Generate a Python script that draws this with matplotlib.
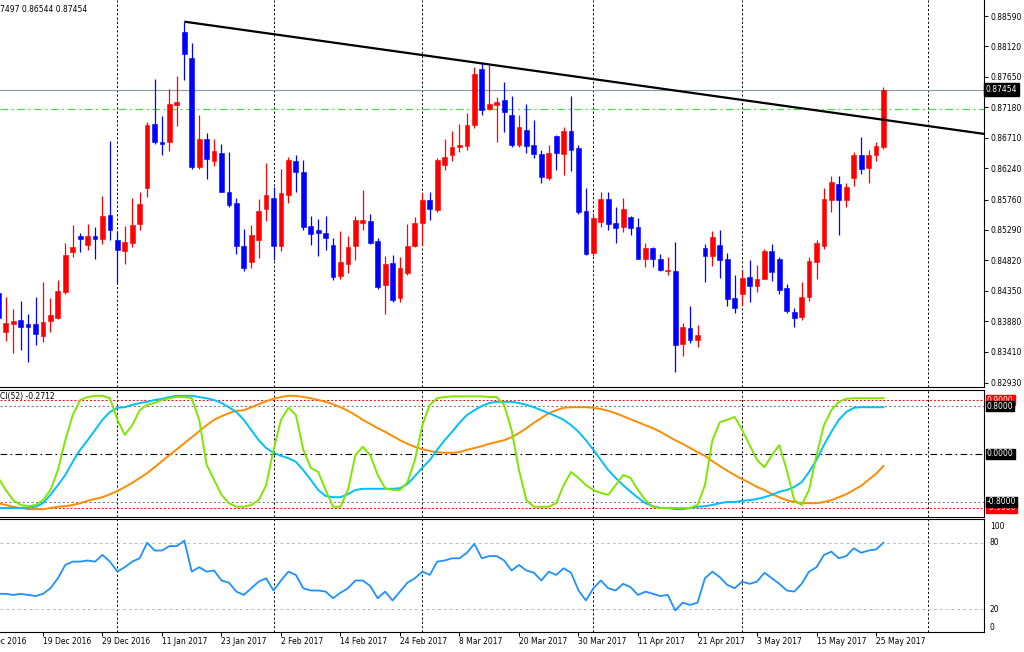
import matplotlib
matplotlib.use('Agg')
import matplotlib.pyplot as plt
import numpy as np

plt.rcParams['font.family'] = ['DejaVu Sans']
plt.rcParams['font.size'] = 5.5

# ---------------- data ----------------
bar_idx = list(range(-6, 114))

opens = [0.8432, 0.8371, 0.8384, 0.8390, 0.8384, 0.8384,
         0.8366, 0.8388, 0.8394, 0.8434, 0.8495, 0.8519, 0.8506, 0.8520, 0.8515, 0.8552,
         0.8513, 0.8497, 0.8509, 0.8538, 0.8593, 0.8692, 0.8664, 0.8664, 0.8722, 0.8834,
         0.8795, 0.8626, 0.8669, 0.8636, 0.8647, 0.8587, 0.8570, 0.8505, 0.8479, 0.8513,
         0.8561, 0.8578, 0.8504, 0.8583, 0.8635, 0.8619, 0.8535, 0.8529, 0.8524, 0.8506,
         0.8458, 0.8477, 0.8504, 0.8540, 0.8543, 0.8512, 0.8444, 0.8478, 0.8424, 0.8462,
         0.8504, 0.8539, 0.8576, 0.8560, 0.8629, 0.8644, 0.8657, 0.8659, 0.8691, 0.8777,
         0.8715, 0.8722, 0.8730, 0.8707, 0.8660, 0.8683, 0.8660, 0.8646, 0.8609, 0.8674,
         0.8646, 0.8682, 0.8656, 0.8558, 0.8493, 0.8541, 0.8577, 0.8539, 0.8533, 0.8549,
         0.8534, 0.8485, 0.8501, 0.8485, 0.8466, 0.8465, 0.8353, 0.8378, 0.8359, 0.8501,
         0.8489, 0.8506, 0.8484, 0.8424, 0.8430, 0.8457, 0.8442, 0.8454, 0.8497, 0.8484,
         0.8439, 0.8403, 0.8395, 0.8425, 0.8480, 0.8505, 0.8576, 0.8600, 0.8576, 0.8609,
         0.8644, 0.8624, 0.8645, 0.8657]
highs = [0.8440, 0.8426, 0.8407, 0.8420, 0.8399, 0.8426,
         0.8448, 0.8424, 0.8452, 0.8509, 0.8537, 0.8525, 0.8538, 0.8534, 0.8581, 0.8666,
         0.8528, 0.8535, 0.8579, 0.8588, 0.8696, 0.8762, 0.8705, 0.8746, 0.8767, 0.8850,
         0.8817, 0.8706, 0.8678, 0.8670, 0.8662, 0.8649, 0.8578, 0.8531, 0.8537, 0.8577,
         0.8632, 0.8596, 0.8623, 0.8642, 0.8644, 0.8637, 0.8550, 0.8546, 0.8550, 0.8516,
         0.8528, 0.8519, 0.8550, 0.8590, 0.8554, 0.8517, 0.8489, 0.8490, 0.8488, 0.8538,
         0.8549, 0.8586, 0.8588, 0.8640, 0.8669, 0.8681, 0.8692, 0.8709, 0.8781, 0.8786,
         0.8783, 0.8734, 0.8758, 0.8736, 0.8706, 0.8724, 0.8699, 0.8652, 0.8660, 0.8675,
         0.8688, 0.8735, 0.8660, 0.8593, 0.8555, 0.8587, 0.8588, 0.8565, 0.8578, 0.8551,
         0.8547, 0.8509, 0.8502, 0.8492, 0.8488, 0.8511, 0.8386, 0.8412, 0.8383, 0.8507,
         0.8528, 0.8529, 0.8493, 0.8460, 0.8467, 0.8483, 0.8475, 0.8499, 0.8507, 0.8487,
         0.8445, 0.8408, 0.8449, 0.8487, 0.8513, 0.8593, 0.8613, 0.8613, 0.8601, 0.8650,
         0.8673, 0.8653, 0.8665, 0.87497]
lows = [0.8388, 0.8358, 0.8339, 0.8344, 0.8325, 0.8351,
        0.8357, 0.8371, 0.8391, 0.8430, 0.8487, 0.8495, 0.8498, 0.8485, 0.8507, 0.8513,
        0.8447, 0.8477, 0.8503, 0.8529, 0.8580, 0.8662, 0.8645, 0.8651, 0.8690, 0.8760,
        0.8623, 0.8623, 0.8607, 0.8628, 0.8587, 0.8564, 0.8492, 0.8466, 0.8470, 0.8486,
        0.8543, 0.8482, 0.8497, 0.8571, 0.8588, 0.8529, 0.8506, 0.8489, 0.8498, 0.8452,
        0.8453, 0.8462, 0.8483, 0.8529, 0.8508, 0.8438, 0.8399, 0.8418, 0.8418, 0.8460,
        0.8502, 0.8506, 0.8544, 0.8556, 0.8622, 0.8636, 0.8650, 0.8652, 0.8686, 0.8706,
        0.8714, 0.8664, 0.8680, 0.8657, 0.8657, 0.8647, 0.8640, 0.8602, 0.8606, 0.8622,
        0.8614, 0.8620, 0.8554, 0.8491, 0.8489, 0.8534, 0.8529, 0.8509, 0.8526, 0.8521,
        0.8484, 0.8472, 0.8472, 0.8465, 0.8459, 0.8310, 0.8334, 0.8355, 0.8348, 0.8448,
        0.8473, 0.8455, 0.8412, 0.8401, 0.8413, 0.8418, 0.8434, 0.8453, 0.8451, 0.8430,
        0.8401, 0.8379, 0.8390, 0.8420, 0.8454, 0.8499, 0.8557, 0.8521, 0.8565, 0.8597,
        0.8615, 0.8601, 0.8636, 0.86544]
closes = [0.8393, 0.8386, 0.8389, 0.8380, 0.8380, 0.8369,
          0.8387, 0.8398, 0.8435, 0.8490, 0.8503, 0.8515, 0.8519, 0.8515, 0.8551, 0.8529,
          0.8498, 0.8510, 0.8537, 0.8569, 0.8691, 0.8664, 0.8662, 0.8723, 0.8726, 0.8800,
          0.8626, 0.8670, 0.8638, 0.8651, 0.8588, 0.8568, 0.8505, 0.8471, 0.8522, 0.8558,
          0.8583, 0.8504, 0.8586, 0.8637, 0.8619, 0.8534, 0.8523, 0.8525, 0.8517, 0.8457,
          0.8480, 0.8503, 0.8545, 0.8545, 0.8509, 0.8441, 0.8477, 0.8421, 0.8470, 0.8505,
          0.8539, 0.8576, 0.8561, 0.8637, 0.8642, 0.8657, 0.8660, 0.8691, 0.8769, 0.8714,
          0.8724, 0.8726, 0.8711, 0.8660, 0.8688, 0.8659, 0.8646, 0.8610, 0.8647, 0.8647,
          0.8682, 0.8653, 0.8556, 0.8492, 0.8547, 0.8577, 0.8538, 0.8532, 0.8561, 0.8532,
          0.8485, 0.8501, 0.8485, 0.8467, 0.8468, 0.8352, 0.8380, 0.8359, 0.8367, 0.8489,
          0.8518, 0.8482, 0.8423, 0.8409, 0.8455, 0.8443, 0.8454, 0.8497, 0.8464, 0.8436,
          0.8404, 0.8394, 0.8425, 0.8481, 0.8509, 0.8577, 0.8603, 0.8576, 0.8595, 0.8644,
          0.8623, 0.8644, 0.8659, 0.87454]

# oscillator window (three lines)
osc_green = [-0.40, -0.60, -0.77, -0.85, -0.87, -0.85,
             -0.77, -0.60, -0.27, 0.23, 0.65, 0.90, 0.95, 0.97, 0.97, 0.93,
             0.57, 0.32, 0.48, 0.73, 0.82, 0.85, 0.90, 0.93, 0.95, 0.95,
             0.93, 0.57, -0.18, -0.43, -0.68, -0.82, -0.88, -0.88, -0.85, -0.77,
             -0.52, 0.07, 0.57, 0.77, 0.65, 0.07, -0.23, -0.30, -0.60, -0.88,
             -0.88, -0.60, -0.02, 0.12, -0.02, -0.35, -0.57, -0.60, -0.60, -0.47,
             -0.10, 0.48, 0.82, 0.93, 0.95, 0.96, 0.96, 0.96, 0.96, 0.96,
             0.95, 0.95, 0.82, 0.40, -0.27, -0.77, -0.88, -0.88, -0.88, -0.82,
             -0.52, -0.30, -0.40, -0.52, -0.60, -0.65, -0.68, -0.52, -0.35, -0.40,
             -0.60, -0.77, -0.88, -0.90, -0.90, -0.90, -0.90, -0.90, -0.85, -0.52,
             0.23, 0.53, 0.57, 0.62, 0.40, 0.15, -0.10, -0.22, -0.02, 0.15,
             -0.27, -0.77, -0.85, -0.60, -0.02, 0.48, 0.73, 0.87, 0.92, 0.93,
             0.93, 0.93, 0.93, 0.93]
osc_blue = [-0.90, -0.90, -0.90, -0.90, -0.89, -0.88,
            -0.82, -0.68, -0.52, -0.35, -0.13, 0.07, 0.23, 0.40, 0.57, 0.70,
            0.77, 0.78, 0.82, 0.85, 0.87, 0.90, 0.92, 0.95, 0.97, 0.97,
            0.97, 0.95, 0.93, 0.90, 0.85, 0.78, 0.70, 0.57, 0.40, 0.23,
            0.10, 0.02, -0.03, -0.07, -0.13, -0.27, -0.43, -0.60, -0.70, -0.72,
            -0.72, -0.67, -0.60, -0.58, -0.58, -0.58, -0.58, -0.58, -0.57, -0.50,
            -0.37, -0.23, -0.10, 0.07, 0.23, 0.37, 0.52, 0.65, 0.73, 0.80,
            0.85, 0.87, 0.87, 0.87, 0.85, 0.82, 0.78, 0.73, 0.68, 0.63,
            0.57, 0.48, 0.37, 0.23, 0.07, -0.10, -0.27, -0.40, -0.52, -0.63,
            -0.73, -0.82, -0.87, -0.90, -0.90, -0.92, -0.92, -0.90, -0.88, -0.87,
            -0.85, -0.82, -0.80, -0.80, -0.78, -0.77, -0.75, -0.72, -0.68, -0.63,
            -0.60, -0.55, -0.47, -0.30, -0.10, 0.15, 0.37, 0.57, 0.70, 0.77,
            0.78, 0.78, 0.78, 0.78]
osc_orange = [-0.82, -0.85, -0.88, -0.90, -0.92, -0.92,
              -0.92, -0.90, -0.88, -0.87, -0.85, -0.82, -0.78, -0.75, -0.72, -0.67,
              -0.62, -0.55, -0.48, -0.40, -0.32, -0.22, -0.12, -0.02, 0.08, 0.18,
              0.28, 0.38, 0.48, 0.57, 0.63, 0.68, 0.72, 0.73, 0.78, 0.83,
              0.88, 0.92, 0.95, 0.97, 0.97, 0.95, 0.93, 0.90, 0.87, 0.83,
              0.78, 0.72, 0.65, 0.57, 0.50, 0.43, 0.37, 0.30, 0.23, 0.17,
              0.12, 0.08, 0.05, 0.03, 0.02, 0.02, 0.03, 0.07, 0.10, 0.13,
              0.17, 0.20, 0.23, 0.28, 0.35, 0.43, 0.52, 0.60, 0.68, 0.73,
              0.77, 0.78, 0.78, 0.78, 0.77, 0.75, 0.72, 0.68, 0.63, 0.58,
              0.53, 0.48, 0.43, 0.37, 0.30, 0.23, 0.17, 0.10, 0.03, -0.03,
              -0.12, -0.20, -0.28, -0.35, -0.42, -0.48, -0.55, -0.60, -0.67, -0.72,
              -0.77, -0.80, -0.82, -0.82, -0.82, -0.80, -0.77, -0.72, -0.67, -0.60,
              -0.53, -0.43, -0.33, -0.20]

# bottom window (0..100 oscillator)
rsi_vals = [34, 34, 33, 34, 33, 32,
            34, 39, 48, 60, 63, 63, 64, 63, 69, 63,
            54, 58, 63, 66, 80, 73, 73, 77, 77, 82,
            54, 58, 54, 55, 46, 44, 36, 33, 39, 45,
            48, 37, 46, 54, 51, 39, 37, 37, 36, 30,
            35, 39, 46, 46, 41, 30, 36, 28, 36, 44,
            48, 54, 51, 63, 64, 66, 66, 71, 79, 66,
            68, 68, 64, 55, 60, 55, 53, 46, 54, 51,
            57, 53, 37, 28, 39, 46, 39, 37, 43, 40,
            33, 36, 34, 32, 33, 19, 26, 24, 26, 48,
            54, 49, 42, 39, 45, 43, 45, 53, 48, 43,
            37, 36, 43, 54, 58, 69, 72, 66, 68, 75,
            71, 73, 74, 80]

price_ticks = [0.88590, 0.88120, 0.87650, 0.87180, 0.86710, 0.86240, 0.85760,
               0.85290, 0.84820, 0.84350, 0.83880, 0.83410, 0.82930]
bid_price = 0.87454
green_level = 0.8716
trend_x = [19, 60]
trend_y = [0.88503, 0.87843]
month_grid = [10, 31, 51, 74, 94, 119]
date_labels = ["7 Dec 2016", "19 Dec 2016", "29 Dec 2016", "11 Jan 2017", "23 Jan 2017",
               "2 Feb 2017", "14 Feb 2017", "24 Feb 2017", "8 Mar 2017", "20 Mar 2017",
               "30 Mar 2017", "11 Apr 2017", "21 Apr 2017", "3 May 2017", "15 May 2017",
               "25 May 2017"]
date_label_idx = [-8, 0, 8, 16, 24, 32, 40, 48, 56, 64, 72, 80, 88, 96, 104, 112]
osc_levels = [0.9, 0.8, 0.0, -0.8, -0.9]
rsi_levels = [80, 20]
header_text = "7497 0.86544 0.87454"
osc_title = "CI(52) -0.2712"

# ---------------- figure ----------------
W, H = 1024, 652
fig = plt.figure(figsize=(W / 100, H / 100), dpi=100)
fig.patch.set_facecolor('white')

def box(y_top, y_bot):
    return [0, 1 - y_bot / H, 984 / W, (y_bot - y_top) / H]

ax1 = fig.add_axes(box(0, 386.5))
ax2 = fig.add_axes(box(390, 516.5))
ax3 = fig.add_axes(box(519, 632))

XL = (-5.78, 126.52)
for ax in (ax1, ax2, ax3):
    ax.set_facecolor('white')
    for s in ax.spines.values():
        s.set_color('black')
        s.set_linewidth(0.8)
    ax.spines['left'].set_visible(False)
    for g in month_grid:
        ax.axvline(g, color='black', lw=0.7, ls=(0, (2.2, 2.2)), zorder=1)
    ax.tick_params(axis='x', bottom=False, labelbottom=False)
ax1.spines['top'].set_visible(False)

# ---- price panel ----
x = np.array(bar_idx)
o = np.array(opens); h = np.array(highs); l = np.array(lows); c = np.array(closes)
up = c >= o
cols = np.where(up, '#FF0000', '#0000FF')
ax1.vlines(x, l, h, colors=cols, lw=0.9, zorder=3)
bottoms = np.minimum(o, c)
heights = np.maximum(np.abs(c - o), 0.00005)
ax1.bar(x, heights, bottom=bottoms, width=0.64, color=cols, edgecolor=cols,
        linewidth=0.4, zorder=4)

ax1.axhline(bid_price, color='#8899AA', lw=0.8, zorder=2)
ax1.axhline(green_level, color='#44DD44', lw=0.9, ls=(0, (6, 3, 1.5, 3)), zorder=2)

slope = (trend_y[1] - trend_y[0]) / (trend_x[1] - trend_x[0])
x_end = XL[1] + 2
ax1.plot([trend_x[0], x_end], [trend_y[0], trend_y[0] + slope * (x_end - trend_x[0])],
         color='black', lw=1.6, zorder=5, solid_capstyle='butt')

ax1.set_ylim(0.82876, 0.88837)
ax1.yaxis.tick_right()
ax1.set_yticks(price_ticks)
ax1.set_yticklabels(["%.5f" % v for v in price_ticks])
ax1.tick_params(axis='y', right=True, left=False, length=3, width=0.7, pad=1.5,
                labelsize=5.5, colors='black')
ax1.text(1 + 2 / 984, bid_price, "%.5f" % bid_price, transform=ax1.get_yaxis_transform(),
         color='white', fontsize=5.5, va='center', ha='left', zorder=10,
         bbox=dict(facecolor='black', edgecolor='black', pad=1.2), clip_on=False)
fig.text(0.5 / W, 1 - 9 / H, header_text, fontsize=5.5, va='center', ha='left')

# ---- oscillator panel ----
ax2.set_ylim(-1.042, 1.067)
for lv in osc_levels:
    if abs(lv) == 0.9:
        ax2.axhline(lv, color='#FF0000', lw=0.7, ls=(0, (2, 2)), zorder=1)
    elif lv == 0:
        ax2.axhline(lv, color='black', lw=0.8, ls=(0, (6, 3, 1.5, 3)), zorder=1)
    else:
        ax2.axhline(lv, color='#808080', lw=0.8, ls=(0, (2, 2)), zorder=1)
ax2.plot(x, osc_orange, color='#FF8C00', lw=1.4, zorder=3)
ax2.plot(x, osc_blue, color='#00BFFF', lw=1.4, zorder=4)
ax2.plot(x, osc_green, color='#7FE600', lw=1.4, zorder=5)
ax2.tick_params(axis='y', left=False, right=False, labelleft=False)
tr2 = ax2.get_yaxis_transform()
for lv in osc_levels:
    fc = '#FF0000' if abs(lv) == 0.9 else 'black'
    zz = 9 if abs(lv) == 0.9 else 10
    ax2.text(1 + 3 / 984, lv, "%.4f" % lv, transform=tr2, color='white', fontsize=5.5,
             va='center', ha='left', clip_on=False, zorder=zz,
             bbox=dict(facecolor=fc, edgecolor=fc, pad=0.6))
fig.text(0.5 / W, 1 - 397 / H, osc_title, fontsize=5.5, va='center', ha='left')

# ---- bottom panel ----
ax3.set_ylim(-0.4, 101.4)
for lv in rsi_levels:
    ax3.axhline(lv, color='#BBBBBB', lw=0.7, ls=(0, (3, 3)), zorder=1)
ax3.plot(x, rsi_vals, color='#1E90FF', lw=1.3, zorder=3)
ax3.tick_params(axis='y', left=False, right=False, labelleft=False)
tr3 = ax3.get_yaxis_transform()
for lv, yy in zip([100, 80, 20, 0], [95, 80, 20, 4]):
    ax3.text(1 + 6 / 984, yy, str(lv), transform=tr3, fontsize=5.5, va='center',
             ha='left', clip_on=False)

# x axis: tick marks and date labels (the first one runs off the left edge)
ax3.set_xticks([p for p in date_label_idx if p > XL[0]])
ax3.tick_params(axis='x', bottom=True, labelbottom=False, length=3, width=0.7,
                direction='out')
for p, lab in zip(date_label_idx, date_labels):
    ax3.annotate(lab, xy=(p, 0), xycoords=('data', 'axes fraction'),
                 xytext=(0, -4.5), textcoords='offset pixels', fontsize=5.5,
                 ha='left', va='top', annotation_clip=False)

for ax in (ax1, ax2, ax3):
    ax.set_xlim(*XL)

fig.savefig('out.png', dpi=100, facecolor='white')
